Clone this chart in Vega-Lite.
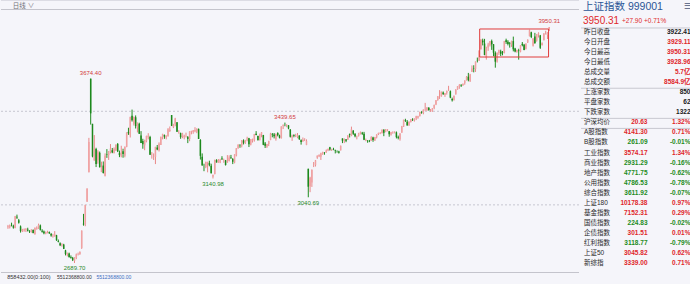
{
  "$schema": "https://vega.github.io/schema/vega-lite/v6.json",
  "background": "#f5f5fa",
  "padding": 0,
  "spacing": 0,
  "resolve": {"scale": {"color": "independent", "x": "independent", "y": "independent"}},
  "config": {
    "view": {"stroke": null},
    "text": {"font": "Liberation Sans, Noto Sans CJK SC", "baseline": "middle"}
  },
  "datasets": {
    "kline": [
      {"d":0,"o":2880,"h":2893,"l":2872,"c":2886},{"d":1,"o":2880,"h":2895,"l":2874,"c":2890},{"d":2,"o":2893,"h":2905,"l":2885,"c":2891},{"d":3,"o":2886,"h":2894,"l":2873,"c":2879},{"d":4,"o":2876,"h":2941,"l":2875,"c":2939},
      {"d":5,"o":2936,"h":2948,"l":2925,"c":2932},{"d":6,"o":2918,"h":2925,"l":2900,"c":2905},{"d":7,"o":2885,"h":2890,"l":2852,"c":2860},{"d":8,"o":2858,"h":2872,"l":2855,"c":2867},{"d":9,"o":2865,"h":2874,"l":2857,"c":2869},
      {"d":10,"o":2866,"h":2876,"l":2855,"c":2870},{"d":11,"o":2868,"h":2878,"l":2858,"c":2862},{"d":12,"o":2860,"h":2865,"l":2850,"c":2858},{"d":13,"o":2855,"h":2870,"l":2852,"c":2867},{"d":14,"o":2866,"h":2869,"l":2848,"c":2850},
      {"d":15,"o":2845,"h":2880,"l":2840,"c":2877},{"d":16,"o":2870,"h":2885,"l":2868,"c":2879},{"d":17,"o":2878,"h":2900,"l":2872,"c":2893},{"d":18,"o":2890,"h":2895,"l":2863,"c":2867},{"d":19,"o":2862,"h":2870,"l":2852,"c":2857},
      {"d":20,"o":2858,"h":2863,"l":2843,"c":2848},{"d":21,"o":2846,"h":2858,"l":2843,"c":2855},{"d":22,"o":2853,"h":2862,"l":2848,"c":2855},{"d":23,"o":2855,"h":2858,"l":2845,"c":2848},{"d":24,"o":2845,"h":2850,"l":2830,"c":2837},
      {"d":25,"o":2833,"h":2845,"l":2825,"c":2835},{"d":26,"o":2833,"h":2860,"l":2830,"c":2842},{"d":27,"o":2838,"h":2840,"l":2808,"c":2811},{"d":28,"o":2806,"h":2815,"l":2800,"c":2802},{"d":29,"o":2795,"h":2800,"l":2780,"c":2784},
      {"d":30,"o":2784,"h":2795,"l":2777,"c":2788},{"d":31,"o":2788,"h":2792,"l":2764,"c":2765},{"d":32,"o":2757,"h":2760,"l":2730,"c":2737},{"d":33,"o":2735,"h":2745,"l":2725,"c":2744},{"d":34,"o":2740,"h":2745,"l":2718,"c":2721},
      {"d":35,"o":2721,"h":2730,"l":2713,"c":2717},{"d":36,"o":2717,"h":2722,"l":2700,"c":2705},{"d":37,"o":2700,"h":2720,"l":2689.7,"c":2717},{"d":38,"o":2716,"h":2740,"l":2710,"c":2736},{"d":39,"o":2735,"h":2745,"l":2730,"c":2736},
      {"d":40,"o":2738,"h":2752,"l":2733,"c":2748},{"d":41,"o":2770,"h":2863,"l":2765,"c":2863},{"d":42,"o":2899,"h":2952,"l":2889,"c":2896},{"d":43,"o":2895,"h":3000,"l":2886,"c":3000},{"d":44,"o":3017,"h":3088,"l":3017,"c":3087},
      {"d":45,"o":3174,"h":3358,"l":3174,"c":3336},{"d":46,"o":3674.4,"h":3674.4,"l":3429,"c":3489},{"d":47,"o":3433,"h":3433,"l":3254,"c":3259},{"d":48,"o":3237,"h":3373,"l":3237,"c":3302},{"d":49,"o":3299,"h":3305,"l":3202,"c":3218},
      {"d":50,"o":3238,"h":3292,"l":3220,"c":3284},{"d":51,"o":3278,"h":3285,"l":3200,"c":3201},{"d":52,"o":3176,"h":3231,"l":3175,"c":3202},{"d":53,"o":3210,"h":3232,"l":3168,"c":3170},{"d":54,"o":3155,"h":3275,"l":3152,"c":3262},
      {"d":55,"o":3270,"h":3298,"l":3251,"c":3268},{"d":56,"o":3266,"h":3288,"l":3240,"c":3286},{"d":57,"o":3283,"h":3325,"l":3275,"c":3302},{"d":58,"o":3292,"h":3304,"l":3276,"c":3280},{"d":59,"o":3276,"h":3307,"l":3276,"c":3300},
      {"d":60,"o":3292,"h":3322,"l":3288,"c":3322},{"d":61,"o":3326,"h":3330,"l":3282,"c":3286},{"d":62,"o":3278,"h":3290,"l":3255,"c":3266},{"d":63,"o":3260,"h":3316,"l":3254,"c":3279},{"d":64,"o":3286,"h":3300,"l":3252,"c":3272},
      {"d":65,"o":3262,"h":3312,"l":3254,"c":3310},{"d":66,"o":3310,"h":3387,"l":3308,"c":3387},{"d":67,"o":3390,"h":3412,"l":3374,"c":3383},{"d":68,"o":3373,"h":3471,"l":3360,"c":3470},{"d":69,"o":3476,"h":3509,"l":3445,"c":3452},
      {"d":70,"o":3434,"h":3472,"l":3424,"c":3470},{"d":71,"o":3468,"h":3478,"l":3408,"c":3421},{"d":72,"o":3414,"h":3440,"l":3387,"c":3439},{"d":73,"o":3433,"h":3439,"l":3379,"c":3380},{"d":74,"o":3371,"h":3394,"l":3330,"c":3331},
      {"d":75,"o":3341,"h":3353,"l":3300,"c":3324},{"d":76,"o":3318,"h":3348,"l":3292,"c":3347},{"d":77,"o":3339,"h":3370,"l":3334,"c":3368},{"d":78,"o":3361,"h":3383,"l":3350,"c":3370},{"d":79,"o":3362,"h":3369,"l":3267,"c":3268},
      {"d":80,"o":3263,"h":3282,"l":3247,"c":3263},{"d":81,"o":3260,"h":3275,"l":3240,"c":3260},{"d":82,"o":3256,"h":3310,"l":3218,"c":3310},{"d":83,"o":3306,"h":3320,"l":3292,"c":3296},{"d":84,"o":3292,"h":3334,"l":3285,"c":3326},
      {"d":85,"o":3320,"h":3364,"l":3320,"c":3364},{"d":86,"o":3362,"h":3380,"l":3350,"c":3379},{"d":87,"o":3373,"h":3376,"l":3353,"c":3365},{"d":88,"o":3360,"h":3372,"l":3350,"c":3368},{"d":89,"o":3367,"h":3410,"l":3365,"c":3404},
      {"d":90,"o":3395,"h":3419,"l":3390,"c":3402},{"d":91,"o":3480,"h":3480,"l":3421,"c":3422},{"d":92,"o":3415,"h":3433,"l":3410,"c":3432},{"d":93,"o":3431,"h":3465,"l":3420,"c":3461},{"d":94,"o":3441,"h":3442,"l":3390,"c":3391},
      {"d":95,"o":3382,"h":3399,"l":3382,"c":3386},{"d":96,"o":3383,"h":3386,"l":3353,"c":3362},{"d":97,"o":3365,"h":3385,"l":3356,"c":3382},{"d":98,"o":3361,"h":3375,"l":3350,"c":3370},{"d":99,"o":3366,"h":3386,"l":3360,"c":3368},
      {"d":100,"o":3362,"h":3368,"l":3330,"c":3352},{"d":101,"o":3352,"h":3393,"l":3340,"c":3393},{"d":102,"o":3390,"h":3396,"l":3377,"c":3394},{"d":103,"o":3390,"h":3400,"l":3380,"c":3398},{"d":104,"o":3394,"h":3415,"l":3388,"c":3400},
      {"d":105,"o":3392,"h":3409,"l":3383,"c":3407},{"d":106,"o":3406,"h":3408,"l":3352,"c":3352},{"d":107,"o":3347,"h":3351,"l":3242,"c":3262},{"d":108,"o":3257,"h":3275,"l":3210,"c":3211},{"d":109,"o":3207,"h":3220,"l":3180,"c":3206},
      {"d":110,"o":3202,"h":3230,"l":3196,"c":3230},{"d":111,"o":3222,"h":3230,"l":3174,"c":3230},{"d":112,"o":3224,"h":3236,"l":3206,"c":3212},{"d":113,"o":3209,"h":3220,"l":3168,"c":3169},{"d":114,"o":3150,"h":3161,"l":3140.98,"c":3161},
      {"d":115,"o":3165,"h":3241,"l":3163,"c":3241},{"d":116,"o":3239,"h":3244,"l":3226,"c":3227},{"d":117,"o":3226,"h":3245,"l":3225,"c":3237},{"d":118,"o":3227,"h":3246,"l":3223,"c":3241},{"d":119,"o":3248,"h":3260,"l":3240,"c":3244},
      {"d":120,"o":3242,"h":3247,"l":3225,"c":3243},{"d":121,"o":3238,"h":3240,"l":3210,"c":3213},{"d":122,"o":3225,"h":3266,"l":3225,"c":3231},{"d":123,"o":3235,"h":3265,"l":3232,"c":3253},{"d":124,"o":3253,"h":3267,"l":3245,"c":3250},
      {"d":125,"o":3245,"h":3250,"l":3218,"c":3230},{"d":126,"o":3226,"h":3270,"l":3222,"c":3270},{"d":127,"o":3264,"h":3303,"l":3259,"c":3303},{"d":128,"o":3303,"h":3323,"l":3300,"c":3322},{"d":129,"o":3321,"h":3323,"l":3305,"c":3318},
      {"d":130,"o":3317,"h":3346,"l":3307,"c":3346},{"d":131,"o":3343,"h":3350,"l":3323,"c":3332},{"d":132,"o":3330,"h":3347,"l":3326,"c":3347},{"d":133,"o":3349,"h":3364,"l":3340,"c":3355},{"d":134,"o":3356,"h":3358,"l":3309,"c":3324},
      {"d":135,"o":3322,"h":3352,"l":3318,"c":3351},{"d":136,"o":3344,"h":3354,"l":3333,"c":3350},{"d":137,"o":3346,"h":3379,"l":3338,"c":3379},{"d":138,"o":3380,"h":3394,"l":3372,"c":3373},{"d":139,"o":3368,"h":3370,"l":3343,"c":3346},
      {"d":140,"o":3345,"h":3380,"l":3345,"c":3380},{"d":141,"o":3376,"h":3389,"l":3361,"c":3388},{"d":142,"o":3373,"h":3374,"l":3319,"c":3321},{"d":143,"o":3328,"h":3336,"l":3304,"c":3316},{"d":144,"o":3310,"h":3326,"l":3304,"c":3325},
      {"d":145,"o":3325,"h":3342,"l":3314,"c":3342},{"d":146,"o":3346,"h":3385,"l":3346,"c":3381},{"d":147,"o":3376,"h":3384,"l":3361,"c":3373},{"d":148,"o":3376,"h":3384,"l":3355,"c":3367},{"d":149,"o":3352,"h":3380,"l":3343,"c":3380},
      {"d":150,"o":3384,"h":3388,"l":3366,"c":3372},{"d":151,"o":3370,"h":3375,"l":3355,"c":3359},{"d":152,"o":3355,"h":3420,"l":3355,"c":3419},{"d":153,"o":3422,"h":3430,"l":3405,"c":3426},{"d":154,"o":3430,"h":3439.65,"l":3420,"c":3429},
      {"d":155,"o":3425,"h":3431,"l":3415,"c":3426},{"d":156,"o":3425,"h":3426,"l":3404,"c":3408},{"d":157,"o":3402,"h":3405,"l":3360,"c":3364},{"d":158,"o":3360,"h":3375,"l":3342,"c":3370},{"d":159,"o":3374,"h":3377,"l":3361,"c":3369},
      {"d":160,"o":3368,"h":3380,"l":3362,"c":3368},{"d":161,"o":3363,"h":3384,"l":3356,"c":3373},{"d":162,"o":3370,"h":3372,"l":3347,"c":3351},{"d":163,"o":3345,"h":3350,"l":3322,"c":3336},{"d":164,"o":3338,"h":3360,"l":3338,"c":3348},
      {"d":165,"o":3350,"h":3356,"l":3341,"c":3350},{"d":166,"o":3320,"h":3350,"l":3319,"c":3342},{"d":167,"o":3193,"h":3193,"l":3040.69,"c":3097},{"d":168,"o":3100,"h":3150,"l":3068,"c":3145},{"d":169,"o":3120,"h":3190,"l":3096,"c":3186},
      {"d":170,"o":3222,"h":3229,"l":3202,"c":3223},{"d":171,"o":3212,"h":3240,"l":3205,"c":3238},{"d":172,"o":3252,"h":3264,"l":3246,"c":3263},{"d":173,"o":3260,"h":3270,"l":3255,"c":3267},{"d":174,"o":3257,"h":3279,"l":3240,"c":3276},
      {"d":175,"o":3270,"h":3284,"l":3268,"c":3281},{"d":176,"o":3279,"h":3282,"l":3268,"c":3277},{"d":177,"o":3280,"h":3296,"l":3278,"c":3291},{"d":178,"o":3290,"h":3300,"l":3287,"c":3300},{"d":179,"o":3308,"h":3310,"l":3290,"c":3296},
      {"d":180,"o":3293,"h":3300,"l":3288,"c":3297},{"d":181,"o":3297,"h":3305,"l":3292,"c":3295},{"d":182,"o":3291,"h":3295,"l":3275,"c":3288},{"d":183,"o":3287,"h":3291,"l":3279,"c":3286},{"d":184,"o":3285,"h":3289,"l":3274,"c":3279},
      {"d":185,"o":3291,"h":3317,"l":3291,"c":3316},{"d":186,"o":3355,"h":3355,"l":3330,"c":3343},{"d":187,"o":3345,"h":3355,"l":3330,"c":3352},{"d":188,"o":3350,"h":3350,"l":3335,"c":3342},{"d":189,"o":3348,"h":3373,"l":3348,"c":3369},
      {"d":190,"o":3380,"h":3380,"l":3360,"c":3374},{"d":191,"o":3370,"h":3418,"l":3367,"c":3404},{"d":192,"o":3397,"h":3399,"l":3374,"c":3380},{"d":193,"o":3379,"h":3384,"l":3361,"c":3367},{"d":194,"o":3366,"h":3370,"l":3350,"c":3368},
      {"d":195,"o":3370,"h":3385,"l":3365,"c":3381},{"d":196,"o":3381,"h":3392,"l":3376,"c":3388},{"d":197,"o":3385,"h":3390,"l":3374,"c":3380},{"d":198,"o":3380,"h":3390,"l":3346,"c":3348},{"d":199,"o":3343,"h":3354,"l":3340,"c":3347},
      {"d":200,"o":3343,"h":3346,"l":3332,"c":3340},{"d":201,"o":3341,"h":3347,"l":3335,"c":3340},{"d":202,"o":3341,"h":3367,"l":3341,"c":3363},{"d":203,"o":3360,"h":3364,"l":3337,"c":3347},{"d":204,"o":3343,"h":3363,"l":3343,"c":3362},
      {"d":205,"o":3360,"h":3377,"l":3355,"c":3376},{"d":206,"o":3378,"h":3386,"l":3373,"c":3384},{"d":207,"o":3382,"h":3388,"l":3378,"c":3385},{"d":208,"o":3384,"h":3404,"l":3381,"c":3400},{"d":209,"o":3401,"h":3404,"l":3367,"c":3385},
      {"d":210,"o":3390,"h":3405,"l":3388,"c":3402},{"d":211,"o":3400,"h":3405,"l":3393,"c":3403},{"d":212,"o":3394,"h":3395,"l":3364,"c":3377},{"d":213,"o":3375,"h":3390,"l":3370,"c":3388},{"d":214,"o":3387,"h":3393,"l":3380,"c":3387},
      {"d":215,"o":3385,"h":3393,"l":3382,"c":3388},{"d":216,"o":3387,"h":3392,"l":3355,"c":3362},{"d":217,"o":3362,"h":3370,"l":3350,"c":3359},{"d":218,"o":3351,"h":3383,"l":3343,"c":3381},{"d":219,"o":3386,"h":3422,"l":3386,"c":3420},
      {"d":220,"o":3418,"h":3455,"l":3416,"c":3455},{"d":221,"o":3452,"h":3460,"l":3443,"c":3448},{"d":222,"o":3444,"h":3453,"l":3424,"c":3424},{"d":223,"o":3424,"h":3446,"l":3423,"c":3444},{"d":224,"o":3443,"h":3458,"l":3440,"c":3457},
      {"d":225,"o":3456,"h":3463,"l":3448,"c":3454},{"d":226,"o":3451,"h":3462,"l":3445,"c":3461},{"d":227,"o":3461,"h":3476,"l":3453,"c":3473},{"d":228,"o":3466,"h":3476,"l":3460,"c":3473},{"d":229,"o":3474,"h":3497,"l":3473,"c":3497},
      {"d":230,"o":3497,"h":3500,"l":3487,"c":3493},{"d":231,"o":3491,"h":3510,"l":3484,"c":3509},{"d":232,"o":3508,"h":3545,"l":3502,"c":3510},{"d":233,"o":3506,"h":3522,"l":3502,"c":3520},{"d":234,"o":3519,"h":3522,"l":3504,"c":3505},
      {"d":235,"o":3502,"h":3512,"l":3497,"c":3503},{"d":236,"o":3500,"h":3517,"l":3497,"c":3516},{"d":237,"o":3518,"h":3536,"l":3511,"c":3534},{"d":238,"o":3536,"h":3560,"l":3533,"c":3559},{"d":239,"o":3560,"h":3581,"l":3556,"c":3581},
      {"d":240,"o":3582,"h":3613,"l":3566,"c":3582},{"d":241,"o":3580,"h":3605,"l":3578,"c":3605},{"d":242,"o":3601,"h":3606,"l":3587,"c":3593},{"d":243,"o":3587,"h":3598,"l":3577,"c":3597},{"d":244,"o":3599,"h":3611,"l":3589,"c":3609},
      {"d":245,"o":3614,"h":3636,"l":3609,"c":3615},{"d":246,"o":3607,"h":3611,"l":3570,"c":3573},{"d":247,"o":3566,"h":3573,"l":3552,"c":3559},{"d":248,"o":3560,"h":3584,"l":3557,"c":3583},{"d":249,"o":3590,"h":3618,"l":3590,"c":3617},
      {"d":250,"o":3617,"h":3634,"l":3615,"c":3634},{"d":251,"o":3633,"h":3645,"l":3620,"c":3639},{"d":252,"o":3638,"h":3645,"l":3630,"c":3635},{"d":253,"o":3640,"h":3648,"l":3635,"c":3647},{"d":254,"o":3650,"h":3665,"l":3642,"c":3665},
      {"d":255,"o":3668,"h":3688,"l":3664,"c":3683},{"d":256,"o":3685,"h":3705,"l":3660,"c":3666},{"d":257,"o":3660,"h":3700,"l":3657,"c":3697},{"d":258,"o":3711,"h":3745,"l":3710,"c":3728},{"d":259,"o":3729,"h":3746,"l":3708,"c":3727},
      {"d":260,"o":3726,"h":3766,"l":3710,"c":3766},{"d":261,"o":3772,"h":3787,"l":3761,"c":3771},{"d":262,"o":3770,"h":3825,"l":3769,"c":3825},{"d":263,"o":3832,"h":3884,"l":3830,"c":3883},{"d":264,"o":3878,"h":3888,"l":3852,"c":3868},
      {"d":265,"o":3862,"h":3887,"l":3800,"c":3800},{"d":266,"o":3785,"h":3845,"l":3776,"c":3843},{"d":267,"o":3841,"h":3866,"l":3823,"c":3857},{"d":268,"o":3853,"h":3875,"l":3846,"c":3875},{"d":269,"o":3875,"h":3883,"l":3828,"c":3858},
      {"d":270,"o":3858,"h":3859,"l":3794,"c":3813},{"d":271,"o":3812,"h":3820,"l":3733,"c":3765},{"d":272,"o":3766,"h":3815,"l":3760,"c":3812},{"d":273,"o":3811,"h":3829,"l":3801,"c":3826},{"d":274,"o":3820,"h":3829,"l":3795,"c":3807},
      {"d":275,"o":3815,"h":3822,"l":3799,"c":3812},{"d":276,"o":3810,"h":3876,"l":3810,"c":3875},{"d":277,"o":3880,"h":3888,"l":3860,"c":3870},{"d":278,"o":3871,"h":3880,"l":3852,"c":3860},{"d":279,"o":3864,"h":3870,"l":3840,"c":3861},
      {"d":280,"o":3856,"h":3877,"l":3844,"c":3876},{"d":281,"o":3875,"h":3899,"l":3820,"c":3831},{"d":282,"o":3836,"h":3839,"l":3815,"c":3820},{"d":283,"o":3818,"h":3829,"l":3813,"c":3828},{"d":284,"o":3825,"h":3834,"l":3776,"c":3822},
      {"d":285,"o":3818,"h":3853,"l":3815,"c":3853},{"d":286,"o":3860,"h":3870,"l":3847,"c":3853},{"d":287,"o":3855,"h":3860,"l":3826,"c":3828},{"d":288,"o":3834,"h":3862,"l":3830,"c":3862},{"d":289,"o":3868,"h":3884,"l":3865,"c":3883},
      {"d":290,"o":3901,"h":3936,"l":3900,"c":3933},{"d":291,"o":3922,"h":3925,"l":3891,"c":3897},{"d":292,"o":3850,"h":3890,"l":3846,"c":3889},{"d":293,"o":3900,"h":3919,"l":3860,"c":3865},{"d":294,"o":3877,"h":3913,"l":3872,"c":3912},
      {"d":295,"o":3910,"h":3922,"l":3894,"c":3916},{"d":296,"o":3905,"h":3908,"l":3833,"c":3839},{"d":297,"o":3854,"h":3868,"l":3851,"c":3864},{"d":298,"o":3880,"h":3917,"l":3879,"c":3916},{"d":299,"o":3913,"h":3930,"l":3910,"c":3914},
      {"d":300,"o":3907,"h":3922,"l":3886,"c":3922},{"d":301,"o":3929.11,"h":3950.31,"l":3928.96,"c":3950.31}
    ],
    "extremes": [
      {"d":46,"p":3674.40,"label":"3674.40","kind":"high"},
      {"d":154,"p":3439.65,"label":"3439.65","kind":"high"},
      {"d":301,"p":3950.31,"label":"3950.31","kind":"high"},
      {"d":37,"p":2689.70,"label":"2689.70","kind":"low"},
      {"d":114,"p":3140.98,"label":"3140.98","kind":"low"},
      {"d":167,"p":3040.69,"label":"3040.69","kind":"low"}
    ],
    "board": [
      {"n":0,"name":"昨日收盘","val":"3922.41","dir":"flat"},
      {"n":1,"name":"今日开盘","val":"3929.11","dir":"up"},
      {"n":2,"name":"今日最高","val":"3950.31","dir":"up"},
      {"n":3,"name":"今日最低","val":"3928.96","dir":"up"},
      {"n":4,"name":"总成交量","val":"5.7亿","dir":"up"},
      {"n":5,"name":"总成交额","val":"8584.9亿","dir":"up"},
      {"n":6,"name":"上涨家数","val":"850","dir":"flat"},
      {"n":7,"name":"平盘家数","val":"62","dir":"flat"},
      {"n":8,"name":"下跌家数","val":"1322","dir":"flat"},
      {"n":9,"name":"沪深均价","val":"20.63","pct":"1.32%","dir":"up"},
      {"n":10,"name":"A股指数","val":"4141.30","pct":"0.71%","dir":"up"},
      {"n":11,"name":"B股指数","val":"261.09","pct":"-0.01%","dir":"down"},
      {"n":12,"name":"工业指数","val":"3574.17","pct":"1.34%","dir":"up"},
      {"n":13,"name":"商业指数","val":"2931.29","pct":"-0.16%","dir":"down"},
      {"n":14,"name":"地产指数","val":"4771.75","pct":"-0.62%","dir":"down"},
      {"n":15,"name":"公用指数","val":"4786.53","pct":"-0.78%","dir":"down"},
      {"n":16,"name":"综合指数","val":"3611.92","pct":"-0.07%","dir":"down"},
      {"n":17,"name":"上证180","val":"10178.38","pct":"0.97%","dir":"up"},
      {"n":18,"name":"基金指数","val":"7152.31","pct":"0.29%","dir":"up"},
      {"n":19,"name":"国债指数","val":"224.83","pct":"-0.02%","dir":"down"},
      {"n":20,"name":"企债指数","val":"301.51","pct":"0.01%","dir":"up"},
      {"n":21,"name":"红利指数","val":"3118.77","pct":"-0.79%","dir":"down"},
      {"n":22,"name":"上证50","val":"3045.82","pct":"0.62%","dir":"up"},
      {"n":23,"name":"新综指","val":"3339.00","pct":"0.71%","dir":"up"}
    ],
    "heading": [
      {"title":"上证指数 999001","menu":"☰","last":"3950.31","chg":"+27.90","chgpct":"+0.71%"}
    ],
    "strip": [
      {"t":"858432.00(0:100)","part":"ratio"},
      {"t":"5512368800.00","part":"vol"},
      {"t":"5512368800.00","part":"amount"}
    ]
  },
  "hconcat": [
    {
      "width": 578,
      "height": 284,
      "data": {"name": "kline"},
      "layer": [
        {
          "data": {"values": [{"level": 3000}, {"level": 3500}]},
          "mark": {"type": "rule", "color": "#c6c6d0", "strokeDash": [2, 2], "strokeWidth": 1},
          "encoding": {
            "y": {"field": "level", "type": "quantitative", "scale": {"domain": [2577.4, 4094.5], "nice": false, "zero": false}, "axis": null}
          }
        },
        {
          "data": {"values": [{"edge": 4091.8}]},
          "mark": {"type": "rule", "strokeWidth": 1, "color": "#dcdce4"},
          "encoding": {"y": {"field": "edge", "type": "quantitative"}}
        },
        {
          "data": {"values": [{"edge": 4043.8}, {"edge": 2638.8}]},
          "mark": {"type": "rule", "strokeWidth": 1, "color": "#c4c4cc"},
          "encoding": {"y": {"field": "edge", "type": "quantitative"}}
        },
        {
          "mark": {"type": "rule", "strokeWidth": 1},
          "encoding": {
            "x": {"field": "d", "type": "quantitative", "scale": {"domain": [-1.093, 314.75], "nice": false, "zero": false}, "axis": null},
            "y": {"field": "l", "type": "quantitative"},
            "y2": {"field": "h"},
            "color": {"condition": {"test": "datum.c >= datum.o", "value": "#e98888"}, "value": "#1f8c1f"}
          }
        },
        {
          "mark": {"type": "bar", "size": 1.5},
          "encoding": {
            "x": {"field": "d", "type": "quantitative"},
            "y": {"field": "o", "type": "quantitative"},
            "y2": {"field": "c"},
            "color": {"condition": {"test": "datum.c >= datum.o", "value": "#f0a2a2"}, "value": "#1c881c"}
          }
        },
        {
          "data": {"values": [{"from": 262.3, "to": 300.6, "bottom": 3790, "top": 3939.6}]},
          "mark": {"type": "rect", "filled": false, "color": "#e03c3c", "strokeWidth": 1},
          "encoding": {
            "x": {"field": "from", "type": "quantitative"},
            "x2": {"field": "to"},
            "y": {"field": "bottom", "type": "quantitative"},
            "y2": {"field": "top"}
          }
        },
        {
          "data": {"name": "extremes"},
          "transform": [{"filter": "datum.kind === 'high'"}],
          "mark": {"type": "text", "fontSize": 6, "color": "#d23a3a", "dy": -6},
          "encoding": {
            "x": {"field": "d", "type": "quantitative"},
            "y": {"field": "p", "type": "quantitative"},
            "text": {"field": "label"}
          }
        },
        {
          "data": {"name": "extremes"},
          "transform": [{"filter": "datum.kind === 'low'"}],
          "mark": {"type": "text", "fontSize": 6, "color": "#2a8a2a", "dy": 5.5},
          "encoding": {
            "x": {"field": "d", "type": "quantitative"},
            "y": {"field": "p", "type": "quantitative"},
            "text": {"field": "label"}
          }
        },
        {
          "data": {"values": [{"t": "日线 ∨"}]},
          "mark": {"type": "text", "fontSize": 6.5, "color": "#707078", "align": "left"},
          "encoding": {
            "x": {"datum": 2.7, "type": "quantitative"},
            "y": {"datum": 4065.1, "type": "quantitative"},
            "text": {"field": "t"}
          }
        },
        {
          "data": {"name": "strip"},
          "transform": [{"filter": "datum.part === 'ratio'"}],
          "mark": {"type": "text", "fontSize": 5.5, "color": "#333333", "align": "left"},
          "encoding": {
            "x": {"datum": -0.4, "type": "quantitative"},
            "y": {"datum": 2614.8, "type": "quantitative"},
            "text": {"field": "t"}
          }
        },
        {
          "data": {"name": "strip"},
          "transform": [{"filter": "datum.part === 'vol'"}],
          "mark": {"type": "text", "fontSize": 5, "color": "#333333", "align": "left"},
          "encoding": {
            "x": {"datum": 27.3, "type": "quantitative"},
            "y": {"datum": 2614.8, "type": "quantitative"},
            "text": {"field": "t"}
          }
        },
        {
          "data": {"name": "strip"},
          "transform": [{"filter": "datum.part === 'amount'"}],
          "mark": {"type": "text", "fontSize": 5, "color": "#3a6cc0", "align": "left"},
          "encoding": {
            "x": {"datum": 49.2, "type": "quantitative"},
            "y": {"datum": 2614.8, "type": "quantitative"},
            "text": {"field": "t"}
          }
        }
      ]
    },
    {
      "width": 112,
      "height": 284,
      "data": {"name": "board"},
      "layer": [
        {
          "data": {"values": [{"line": -0.4}, {"line": 5.6}, {"line": 8.6}, {"line": 9.6}]},
          "mark": {"type": "rule", "color": "#c8c8d0", "strokeWidth": 1},
          "encoding": {
            "y": {"field": "line", "type": "quantitative", "scale": {"domain": [0, 23], "range": [32, 263], "nice": false, "zero": false}, "axis": null}
          }
        },
        {
          "data": {"name": "heading"},
          "mark": {"type": "text", "fontSize": 10.5, "color": "#2c5696", "align": "left", "dx": -1},
          "encoding": {
            "x": {"datum": 0, "type": "quantitative", "scale": {"domain": [0, 1], "range": [3, 109.5], "nice": false, "zero": false}, "axis": null},
            "y": {"datum": -2.45, "type": "quantitative"},
            "text": {"field": "title"}
          }
        },
        {
          "data": {"name": "heading"},
          "mark": {"type": "text", "fontSize": 8, "color": "#4a5878", "align": "right"},
          "encoding": {
            "x": {"datum": 1, "type": "quantitative"},
            "y": {"datum": -2.45, "type": "quantitative"},
            "text": {"field": "menu"}
          }
        },
        {
          "data": {"name": "heading"},
          "mark": {"type": "text", "fontSize": 10, "color": "#e0282a", "align": "left", "dx": -1},
          "encoding": {
            "x": {"datum": 0, "type": "quantitative"},
            "y": {"datum": -1.1, "type": "quantitative"},
            "text": {"field": "last"}
          }
        },
        {
          "data": {"name": "heading"},
          "mark": {"type": "text", "fontSize": 6.5, "color": "#e0282a", "align": "left", "dx": 38},
          "encoding": {
            "x": {"datum": 0, "type": "quantitative"},
            "y": {"datum": -1.1, "type": "quantitative"},
            "text": {"field": "chg"}
          }
        },
        {
          "data": {"name": "heading"},
          "mark": {"type": "text", "fontSize": 6.5, "color": "#e0282a", "align": "left", "dx": 60},
          "encoding": {
            "x": {"datum": 0, "type": "quantitative"},
            "y": {"datum": -1.1, "type": "quantitative"},
            "text": {"field": "chgpct"}
          }
        },
        {
          "mark": {"type": "text", "fontSize": 6.5, "color": "#2a2a2a", "align": "left"},
          "encoding": {
            "x": {"datum": 0, "type": "quantitative"},
            "y": {"field": "n", "type": "quantitative"},
            "text": {"field": "name"}
          }
        },
        {
          "transform": [{"filter": "!isValid(datum.pct)"}],
          "mark": {"type": "text", "fontSize": 6.5, "fontWeight": "bold", "align": "right"},
          "encoding": {
            "x": {"datum": 1, "type": "quantitative"},
            "y": {"field": "n", "type": "quantitative"},
            "text": {"field": "val"},
            "color": {"field": "dir", "type": "nominal", "scale": {"domain": ["up", "down", "flat"], "range": ["#e0262a", "#1c8c1c", "#1a1a1a"]}, "legend": null}
          }
        },
        {
          "transform": [{"filter": "isValid(datum.pct)"}],
          "mark": {"type": "text", "fontSize": 6.5, "fontWeight": "bold", "align": "right", "dx": -43},
          "encoding": {
            "x": {"datum": 1, "type": "quantitative"},
            "y": {"field": "n", "type": "quantitative"},
            "text": {"field": "val"},
            "color": {"field": "dir", "type": "nominal"}
          }
        },
        {
          "transform": [{"filter": "isValid(datum.pct)"}],
          "mark": {"type": "text", "fontSize": 6.5, "fontWeight": "bold", "align": "right"},
          "encoding": {
            "x": {"datum": 1, "type": "quantitative"},
            "y": {"field": "n", "type": "quantitative"},
            "text": {"field": "pct"},
            "color": {"field": "dir", "type": "nominal"}
          }
        }
      ]
    }
  ]
}
